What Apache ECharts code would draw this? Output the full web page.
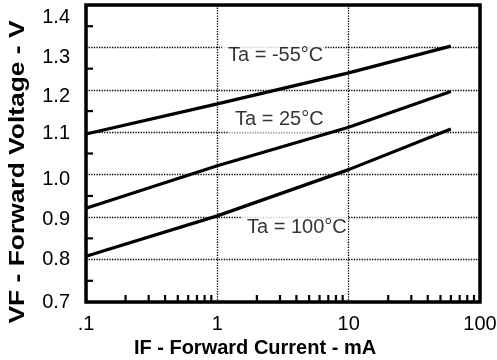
<!DOCTYPE html>
<html><head><meta charset="utf-8">
<script src="https://cdn.jsdelivr.net/npm/echarts@6/dist/echarts.min.js"></script>
<style>html,body{margin:0;padding:0;background:#fff}#c{width:497px;height:360px}</style>
</head><body><div id="c"></div>
<script>
// Forward current (mA) at which the curves were read
const currents = [0.1, 1, 10, 60];
// Forward voltage (V) for each ambient temperature
const vfMinus55 = [1.096, 1.167, 1.240, 1.303];
const vf25 = [0.921, 1.021, 1.112, 1.196];
const vf100 = [0.808, 0.903, 1.012, 1.108];
// Axis ticks
const xTickValues = [0.1, 1, 10, 100];
const xTickLabels = ['.1', '1', '10', '100'];
const yTickValues = [0.7, 0.8, 0.9, 1.0, 1.1, 1.2, 1.3, 1.4];
const yTickLabels = ['0.7', '0.8', '0.9', '1.0', '1.1', '1.2', '1.3', '1.4'];
const xMinorTicks = [0.2,0.3,0.4,0.5,0.6,0.7,0.8,0.9,2,3,4,5,6,7,8,9,20,30,40,50,60,70,80,90];
const yMinorTicks = [0.75,0.85,0.95,1.05,1.15,1.25,1.35];
// Curve annotations (anchored in data coordinates)
const annotationTexts = ['Ta = -55°C', 'Ta = 25°C', 'Ta = 100°C'];
const annotationX = [1.086, 1.228, 1.515];
const annotationY = [1.281, 1.131, 0.8756];

// layout: downward nudge (px) of each y tick label, as in the original scan
const yLabelNudge = [0, 0, 2, 5, 1, 7, 10, 12];

const FONT = 'Liberation Sans, Arial, Helvetica, sans-serif';
const chart = echarts.init(document.getElementById('c'), null, {renderer: 'canvas'});

function curve(vals) {
  return {
    type: 'line', data: currents.map((c, i) => [c, vals[i]]),
    symbol: 'none', lineStyle: {color: '#000', width: 3.2}, z: 3, silent: true
  };
}
const gridLineStyle = {color: '#000', width: 1.3, type: [1.3, 1.3]};
const yRich = {};
yTickLabels.forEach((t, i) => {
  yRich['n' + i] = {fontFamily: FONT, fontSize: 20, color: '#000', padding: [yLabelNudge[i] * 2, 0, 0, 0]};
});

const option = {
  backgroundColor: '#fff',
  animation: false,
  grid: {left: 86, top: 5, right: 17, bottom: 58, show: true, borderColor: '#000', borderWidth: 3.5,
         backgroundColor: 'transparent', containLabel: false, outerBoundsMode: 'none'},
  xAxis: {
    type: 'log', logBase: 10, min: 0.1, max: 100,
    axisLine: {show: false}, axisTick: {show: false},
    splitLine: {show: true, lineStyle: gridLineStyle},
    axisLabel: {
      fontFamily: FONT, fontSize: 20, color: '#000', margin: 12,
      formatter: v => { const i = xTickValues.findIndex(t => Math.abs(t - v) / t < 1e-6); return i >= 0 ? xTickLabels[i] : ''; }
    },
    name: 'IF - Forward Current - mA', nameLocation: 'middle', nameGap: 34,
    nameTextStyle: {fontFamily: FONT, fontSize: 20, fontWeight: 'bold', color: '#000', padding: [0, 56, 0, 0]}
  },
  yAxis: {
    type: 'value', min: 0.7, max: 1.4, interval: 0.1,
    axisLine: {show: false}, axisTick: {show: false},
    splitLine: {show: true, lineStyle: gridLineStyle},
    axisLabel: {
      fontFamily: FONT, fontSize: 20, color: '#000', margin: 16, rich: yRich,
      formatter: v => { const i = yTickValues.findIndex(t => Math.abs(t - v) < 1e-6); return i >= 0 ? '{n' + i + '|' + yTickLabels[i] + '}' : ''; }
    }
  },
  graphic: [{
    type: 'text', x: 18, y: 172, rotation: Math.PI / 2, scaleX: 1.2,
    style: {text: 'VF - Forward Voltage - V', font: 'bold 22px ' + FONT, fill: '#000',
            textAlign: 'center', textVerticalAlign: 'middle'}
  }],
  series: [
    curve(vfMinus55), curve(vf25), curve(vf100),
    {
      type: 'custom', silent: true, z: 5, clip: false,
      data: xMinorTicks.map(v => [v, 0.7]),
      renderItem: (params, api) => {
        const p = api.coord([api.value(0), api.value(1)]);
        return {type: 'line', shape: {x1: p[0], y1: p[1], x2: p[0], y2: p[1] - 7}, style: {stroke: '#000', lineWidth: 2.2}};
      }
    },
    {
      type: 'custom', silent: true, z: 5, clip: false,
      data: yMinorTicks.map(v => [0.1, v]),
      renderItem: (params, api) => {
        const p = api.coord([api.value(0), api.value(1)]);
        return {type: 'line', shape: {x1: p[0], y1: p[1], x2: p[0] + 7, y2: p[1]}, style: {stroke: '#000', lineWidth: 2.2}};
      }
    },
    {
      type: 'scatter', silent: true, z: 4, symbolSize: 0,
      data: annotationTexts.map((t, i) => ({value: [annotationX[i], annotationY[i]], label: {formatter: t}})),
      label: {show: true, position: 'right', distance: 0, backgroundColor: '#fff', padding: [4, 1, 3, 6],
              fontFamily: FONT, fontSize: 20, color: '#000', lineHeight: 20}
    }
  ]
};
chart.setOption(option);
</script></body></html>
